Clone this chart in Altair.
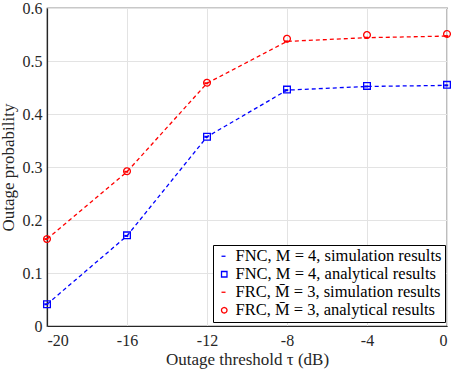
import altair as alt
import pandas as pd

thresholds = [-20, -16, -12, -8, -4, 0]
fnc_sim = [0.041, 0.170, 0.357, 0.445, 0.452, 0.454]
fnc_ana = [0.041, 0.171, 0.357, 0.446, 0.453, 0.455]
frc_sim = [0.164, 0.291, 0.458, 0.537, 0.544, 0.547]
frc_ana = [0.164, 0.292, 0.459, 0.542, 0.549, 0.551]

labels = [
    "FNC, M = 4, simulation results",
    "FNC, M = 4, analytical results",
    "FRC, M\u0304 = 3, simulation results",
    "FRC, M\u0304 = 3, analytical results",
]
colors = ["#0000ff", "#0000ff", "#ff0000", "#ff0000"]
shapes = ["stroke", "square", "stroke", "circle"]
dashes = [[4, 3], [1, 0], [4, 3], [1, 0]]

rows = []
for lab, vals in zip(labels, [fnc_sim, fnc_ana, frc_sim, frc_ana]):
    for t, v in zip(thresholds, vals):
        rows.append({"tau": t, "p": v, "series": lab})
df = pd.DataFrame(rows)

FONT = "Liberation Serif"

x_enc = alt.X("tau:Q", scale=alt.Scale(domain=[-20, 0]),
              axis=alt.Axis(values=thresholds, title="Outage threshold \u03c4 (dB)",
                            labelExpr="datum.value + ''"))
y_enc = alt.Y("p:Q", scale=alt.Scale(domain=[0, 0.6]),
              axis=alt.Axis(values=[0, 0.1, 0.2, 0.3, 0.4, 0.5, 0.6], format=".1~f",
                            title="Outage probability"))
stroke_enc = alt.Stroke(
    "series:N", scale=alt.Scale(domain=labels, range=colors),
    legend=alt.Legend(title=None, orient="none", legendX=166, legendY=237,
                      symbolFillColor="white"),
)
shape_enc = alt.Shape("series:N", scale=alt.Scale(domain=labels, range=shapes))
dash_enc = alt.StrokeDash("series:N", scale=alt.Scale(domain=labels, range=dashes))

base = alt.Chart(df)

lines = base.transform_filter(
    alt.FieldOneOfPredicate(field="series", oneOf=[labels[0], labels[2]])
).mark_line(strokeWidth=1.3).encode(
    x=x_enc, y=y_enc, stroke=stroke_enc, shape=shape_enc, strokeDash=dash_enc
)

points = base.transform_filter(
    alt.FieldOneOfPredicate(field="series", oneOf=[labels[1], labels[3]])
).mark_point(filled=False, size=45, strokeWidth=1.3, opacity=1).encode(
    x=x_enc, y=y_enc, stroke=stroke_enc, shape=shape_enc, strokeDash=dash_enc
)

chart = alt.layer(points, lines).properties(
    width=400, height=318,
    autosize=alt.AutoSizeParams(type="none"),
    padding={"left": 47, "top": 8, "right": 4, "bottom": 46},
    background="white",
).configure_view(
    stroke="#262626", strokeWidth=1.2
).configure_axis(
    labelFont=FONT, titleFont=FONT, labelFontSize=16, titleFontSize=17,
    labelColor="#262626", titleColor="#262626", titleFontWeight="normal",
    grid=True, gridColor="#e3e3e3", gridWidth=1,
    domainColor="#262626", domainWidth=1.2, tickSize=0, labelPadding=5,
).configure_axisY(
    titlePadding=5
).configure_axisX(
    titlePadding=3, labelPadding=6
).configure_legend(
    labelFont=FONT, labelFontSize=16.5, labelColor="#000000",
    fillColor="white", strokeColor="#000000", padding=3,
    symbolSize=30, symbolStrokeWidth=1.3, rowPadding=1, labelLimit=400,
    symbolType="stroke", labelOffset=3, symbolFillColor="white"
)

chart.save("out.html", embed_options={"renderer": "svg", "actions": False})
